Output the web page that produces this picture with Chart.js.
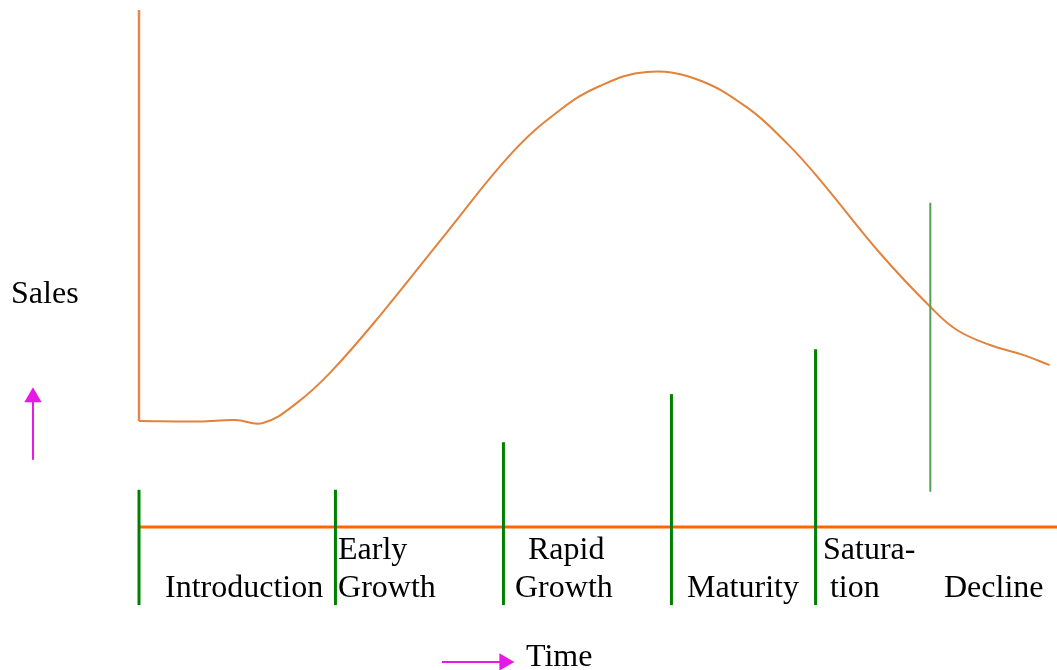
<!DOCTYPE html>
<html>
<head>
<meta charset="utf-8">
<title>Product Life Cycle</title>
<script src="https://cdn.jsdelivr.net/npm/chart.js@4/dist/chart.umd.min.js"></script>
<style>
    html, body { margin: 0; padding: 0; background: #fff; }
    #wrap { width: 1057px; height: 670px; position: relative; }
</style>
</head>
<body>
<div id="wrap"><canvas id="plcChart"></canvas></div>
<script>
// Time runs 0..100 along the base line, sales 0..100 up to the top of the sales line
const curveTime  = [0, 6.6, 10.5, 13.5, 17.2, 20.8, 26.3, 33.5, 40.7, 45.9, 50.2, 55.3, 60.6, 66.2, 70.7,
                    74.2, 80.7, 86.3, 89.1, 92.7, 96.3, 99.2];
const curveSales = [20.5, 20.4, 20.7, 20.1, 24.0, 29.8, 41.0, 56.9, 72.5, 80.7, 85.3, 88.0, 86.7, 81.2, 74.0,
                    67.1, 53.0, 42.4, 38.1, 35.2, 33.3, 31.3];

const salesLine = [20.5, 100];          // vertical sales line at time 0
const timeLine = [0, 100];              // base line at sales 0

const stageNames  = ['Introduction', 'Early Growth', 'Rapid Growth', 'Maturity', 'Saturation', 'Decline'];
const stageStarts = [0, 21.4, 39.7, 58.0, 73.7];
const stageTops   = [7.2, 7.2, 16.4, 25.7, 34.4];
const stageBottom = -15.1;
const declineStart = 86.2;
const declineRange = [6.8, 62.7];

function toPoints(xs, ys) {
    return xs.map(function(x, i) { return { x: x, y: ys[i] }; });
}

const stageMarkers = stageStarts.map(function(t, i) {
    return {
        data: [{ x: t, y: stageBottom }, { x: t, y: stageTops[i] }],
        borderColor: '#008000',
        borderWidth: 3,
        pointRadius: 0,
        tension: 0
    };
});

// text drawn in data coordinates
const textPlugin = {
    id: 'plcText',
    afterDatasetsDraw(chart, args, opts) {
        const ctx = chart.ctx;
        const x = chart.scales.x;
        const y = chart.scales.y;
        ctx.save();
        ctx.font = opts.font;
        ctx.fillStyle = opts.color;
        ctx.textAlign = 'left';
        ctx.textBaseline = 'alphabetic';
        opts.items.forEach(function(item) {
            ctx.fillText(item.text, x.getPixelForValue(item.x), y.getPixelForValue(item.y));
        });
        ctx.restore();
    }
};

const upperRow = -6.1;
const lowerRow = -13.54;

new Chart(document.getElementById('plcChart'), {
    type: 'line',
    data: {
        datasets: stageMarkers.concat([
            {
                data: [{ x: declineStart, y: declineRange[0] }, { x: declineStart, y: declineRange[1] }],
                borderColor: '#55a055',
                borderWidth: 2,
                pointRadius: 0
            },
            {
                data: [{ x: timeLine[0], y: 0 }, { x: timeLine[1], y: 0 }],
                borderColor: '#ff6600',
                borderWidth: 3,
                pointRadius: 0
            },
            {
                data: [{ x: 0, y: salesLine[0] }, { x: 0, y: salesLine[1] }],
                borderColor: '#e2874f',
                borderWidth: 2.5,
                pointRadius: 0
            },
            {
                data: toPoints(curveTime, curveSales),
                borderColor: '#e3823a',
                borderWidth: 2,
                pointRadius: 0,
                tension: 0.4
            },
            // Sales arrow
            {
                data: [{ x: -11.55, y: 13.0 }, { x: -11.55, y: 25.1 }],
                borderColor: '#e619e6',
                borderWidth: 2,
                pointStyle: 'triangle',
                pointRadius: [0, 10],
                pointBorderWidth: 0,
                pointBackgroundColor: '#e619e6'
            },
            // Time arrow
            {
                data: [{ x: 33.0, y: -26.1 }, { x: 39.8, y: -26.1 }],
                borderColor: '#e619e6',
                borderWidth: 2,
                pointStyle: 'triangle',
                pointRotation: 90,
                pointRadius: [0, 10],
                pointBorderWidth: 0,
                pointBackgroundColor: '#e619e6'
            }
        ])
    },
    options: {
        responsive: true,
        maintainAspectRatio: false,
        animation: false,
        layout: { padding: 0, autoPadding: false },
        scales: {
            x: { type: 'linear', min: -15.142, max: 100, display: false },
            y: { type: 'linear', min: -27.66, max: 101.93, display: false }
        },
        plugins: {
            legend: { display: false },
            tooltip: { enabled: false },
            plcText: {
                font: '32px "Liberation Serif", "Times New Roman", serif',
                color: '#000',
                items: [
                    { text: 'Sales', x: -13.94, y: 43.3 },
                    { text: stageNames[0], x: 2.83, y: lowerRow },
                    { text: 'Early', x: 21.68, y: upperRow },
                    { text: 'Growth', x: 21.68, y: lowerRow },
                    { text: 'Rapid', x: 42.37, y: upperRow },
                    { text: 'Growth', x: 40.96, y: lowerRow },
                    { text: stageNames[3], x: 59.69, y: lowerRow },
                    { text: 'Satura-', x: 74.51, y: upperRow },
                    { text: 'tion', x: 75.27, y: lowerRow },
                    { text: stageNames[5], x: 87.69, y: lowerRow },
                    { text: 'Time', x: 42.16, y: -26.89 }
                ]
            }
        }
    },
    plugins: [textPlugin]
});
</script>
</body>
</html>
